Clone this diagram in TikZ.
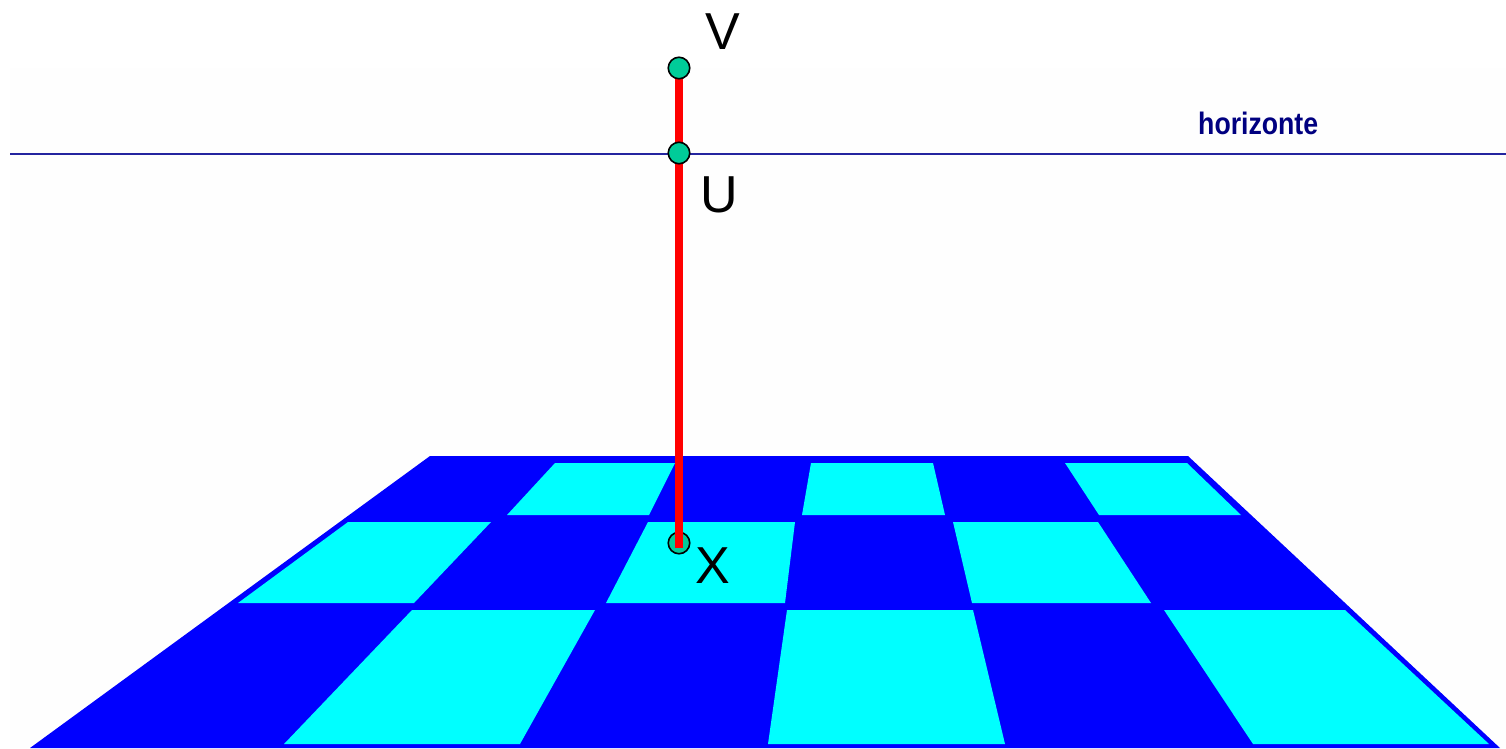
\documentclass[tikz,border=0pt]{standalone}
\usepackage{fontspec}
\setmainfont{Liberation Sans}
\definecolor{boarddark}{HTML}{0000FF}
\definecolor{boardlight}{HTML}{00FFFF}
\definecolor{pointgreen}{HTML}{00CC99}
\definecolor{horizonblue}{HTML}{24249F}
\definecolor{labelnavy}{HTML}{000080}
\definecolor{paper}{HTML}{FEFEFE}
\tikzset{
  lightcell/.style={fill=boardlight,draw=none},
  darkboard/.style={fill=boarddark,draw=none},
  point/.style={circle,draw=black,line width=1.6pt,fill=pointgreen,minimum size=21.5pt,inner sep=0pt},
  letter/.style={anchor=base,inner sep=0pt,font=\fontsize{52}{52}\selectfont,text=black},
  horizonline/.style={draw=horizonblue,line width=2.8pt},
  staff/.style={draw=red,line width=8pt}
}
\begin{document}
\begin{tikzpicture}[x=1pt,y=-1pt]
\useasboundingbox (0,0) rectangle (1506,748);
\fill[white] (0,0) rectangle (1506,748);
\fill[paper] (10,68) rectangle (1506,748);
% board
\fill[darkboard] (430,456) -- (1188,456) -- (1500,748) -- (30,748) -- cycle;
\fill[lightcell] (555,463) -- (675,463) -- (649,515) -- (507,515) -- cycle;
\fill[lightcell] (811,463) -- (933,463) -- (945,515) -- (802,515) -- cycle;
\fill[lightcell] (1065,463) -- (1187,463) -- (1241,515) -- (1099,515) -- cycle;
\fill[lightcell] (348,522) -- (491,522) -- (414,603) -- (238,603) -- cycle;
\fill[lightcell] (648,522) -- (795,522) -- (785,603) -- (606,603) -- cycle;
\fill[lightcell] (953,522) -- (1098,522) -- (1151,603) -- (972,603) -- cycle;
\fill[lightcell] (412,610) -- (595,610) -- (520,744) -- (284,744) -- cycle;
\fill[lightcell] (787,610) -- (973,610) -- (1005,744) -- (768,744) -- cycle;
\fill[lightcell] (1164,610) -- (1345,610) -- (1489,744) -- (1253,744) -- cycle;
% horizon
\coordinate (hleft) at (10,154);
\coordinate (hright) at (1506,154);
\draw[horizonline] (hleft) -- (hright);
\node[inner sep=0pt,anchor=base west,text=labelnavy,font=\fontsize{31}{31}\selectfont\bfseries] (hlabel) at (1198,134) {\scalebox{0.86}[1]{horizonte}};
% staff and points
\coordinate (vtop) at (679,68);
\coordinate (staffend) at (679,548);
\node[point] (X) at (679,543) {};
\draw[staff] (vtop) -- (staffend);
\node[point] (U) at (679,153) {};
\node[point] (V) at (679,68) {};
\node[letter] (lV) at (723,49) {V};
\node[letter] (lU) at (719,212) {U};
\node[letter] (lX) at (713,583) {X};
\end{tikzpicture}
\end{document}
